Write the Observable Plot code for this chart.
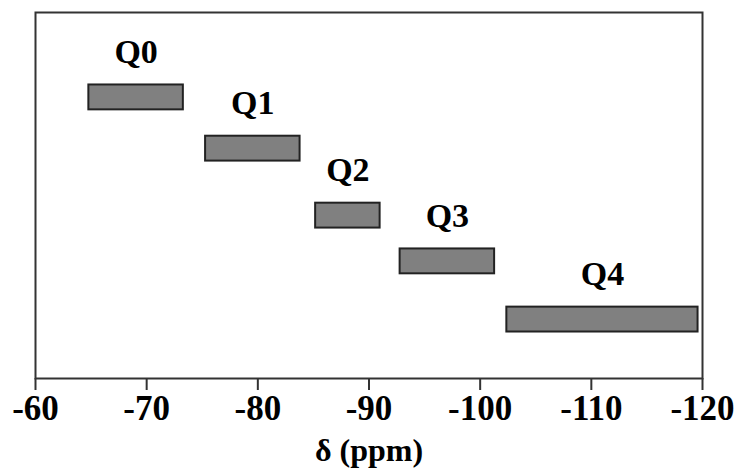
<!DOCTYPE html>
<html>
<head>
<meta charset="utf-8">
<script src="https://cdn.jsdelivr.net/npm/d3@7"></script>
<script src="https://cdn.jsdelivr.net/npm/@observablehq/plot@0.6"></script>
<style>
  html, body { margin: 0; padding: 0; background: #fff; }
  #chart svg { display: block; }
</style>
</head>
<body>
<div id="chart"></div>
<script>
// Qn species names
const species = ["Q0", "Q1", "Q2", "Q3", "Q4"];
// chemical shift range of each species (ppm): start (less negative) and end
const shiftStart = [-64.8, -75.3, -85.2, -92.8, -102.4];
const shiftEnd = [-73.3, -83.8, -91.0, -101.3, -119.6];
// vertical row level of each bar (arbitrary units, 0 = bottom, 10 = top)
const rowLevel = [7.68, 6.28, 4.45, 3.20, 1.61];
// x-axis tick values
const xTicks = [-60, -70, -80, -90, -100, -110, -120];
const xLabel = "δ (ppm)";

const data = species.map((s, i) => ({
  name: s, x1: shiftStart[i], x2: shiftEnd[i], level: rowLevel[i]
}));

const half = 0.34;
const font = "'Liberation Serif', 'Times New Roman', serif";

const chart = Plot.plot({
  width: 736,
  height: 471,
  marginLeft: 35,
  marginRight: 34,
  marginTop: 12,
  marginBottom: 93,
  style: { fontFamily: font, background: "#fff", color: "#000" },
  x: { domain: [-60, -120], ticks: xTicks },
  y: { domain: [0, 10], axis: null },
  marks: [
    Plot.rect(data, {
      x1: "x1", x2: "x2",
      y1: d => d.level - half, y2: d => d.level + half,
      fill: "#808080", stroke: "#222", strokeWidth: 2
    }),
    Plot.text(data, {
      x: d => (d.x1 + d.x2) / 2, y: d => d.level + half,
      text: "name", dy: -33, lineAnchor: "middle",
      fontSize: 34, fontWeight: "bold", fill: "#000"
    }),
    Plot.frame({ stroke: "#333", strokeWidth: 2 }),
    Plot.axisX({
      ticks: xTicks, tickSize: 12, tickPadding: 5, tickFormat: d => String(d),
      fontSize: 35, fontWeight: "bold", stroke: "#333", strokeWidth: 2, fill: "#000",
      label: null
    }),
    Plot.text([xLabel], {
      frameAnchor: "bottom", text: d => d, dy: 72, lineAnchor: "middle",
      fontSize: 32, fontWeight: "bold", fill: "#000"
    })
  ]
});
document.getElementById("chart").appendChild(chart);
</script>
</body>
</html>
